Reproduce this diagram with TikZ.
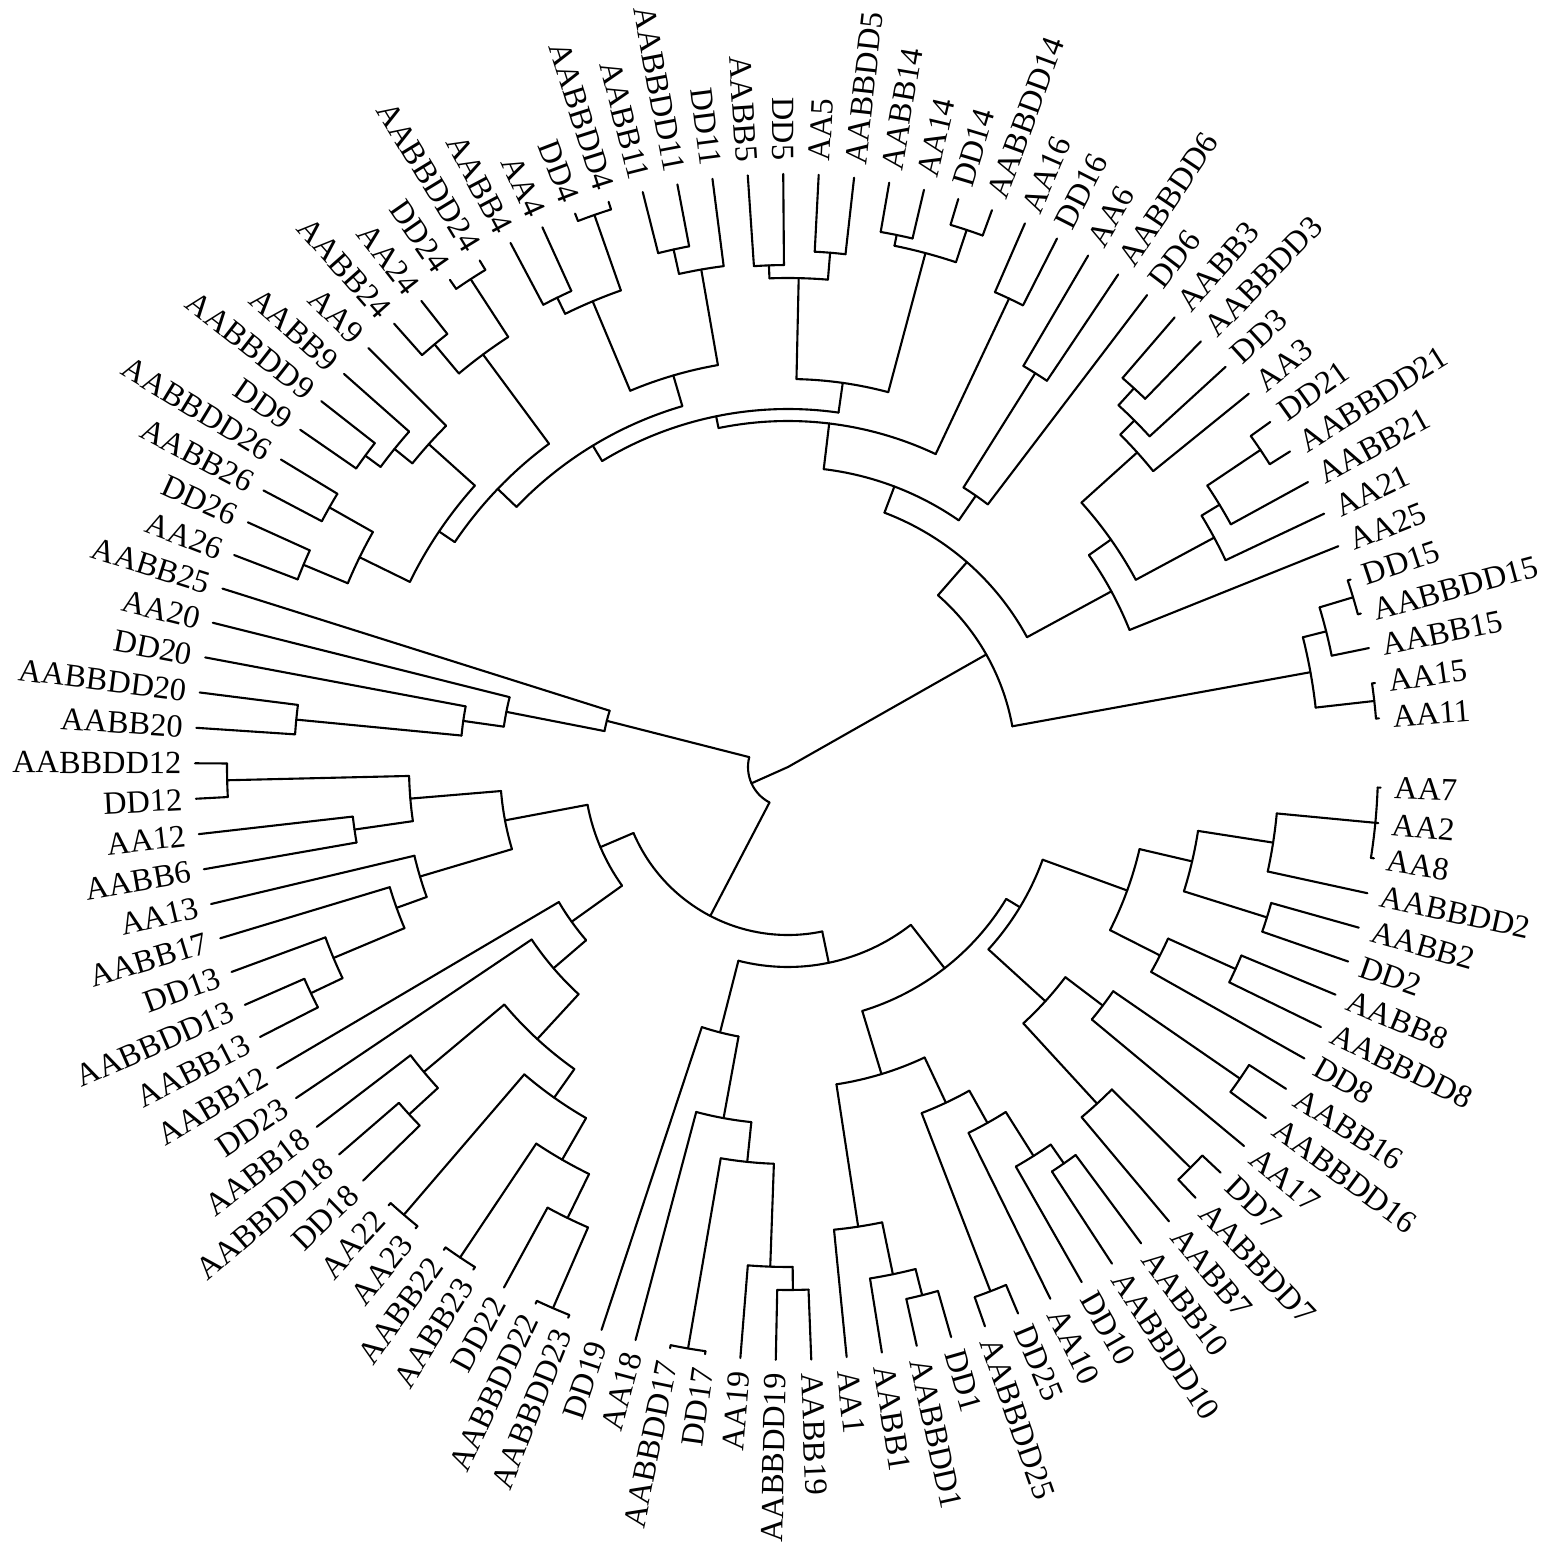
\documentclass[tikz,border=0pt]{standalone}
\usepackage{fontspec}
\setmainfont{Liberation Serif}
\usepackage{tikz}

\tikzset{
  branch/.style={line width=0.6pt, line cap=round, line join=round},
  leaflabel/.style={inner sep=0pt, font=\fontsize{9.2}{11}\selectfont}
}

\makeatletter
% leaf on the outer circle: index, name
\newcommand\leaf[2]{%
  \pgfmathsetmacro\lf@a{-2-3.43*#1}%
  \expandafter\xdef\csname ang@#2\endcsname{\lf@a}%
  \coordinate (#2) at (\lf@a:5.93cm);
  \pgfmathtruncatemacro\lf@s{cos(\lf@a)>=0}%
  \ifnum\lf@s=1
    \node[leaflabel, rotate=\lf@a, anchor=west] (t-#2) at (\lf@a:6.06cm) {#2};
  \else
    \pgfmathsetmacro\lf@b{\lf@a+180}%
    \node[leaflabel, rotate=\lf@b, anchor=east] (t-#2) at (\lf@a:6.06cm) {#2};
  \fi
}
% clade: name, radius (px), children
\newcommand\clade[3]{%
  \gdef\cl@first{}%
  \foreach \cn in {#3}{%
    \ifx\cl@first\@empty\xdef\cl@first{\cn}\fi
    \xdef\cl@last{\cn}%
  }%
  \edef\cl@aa{\csname ang@\cl@first\endcsname}%
  \edef\cl@ab{\csname ang@\cl@last\endcsname}%
  \pgfmathsetmacro\cl@am{(\cl@aa+\cl@ab)/2}%
  \pgfmathsetmacro\cl@r{#2/100}%
  \expandafter\xdef\csname ang@#1\endcsname{\cl@am}%
  \coordinate (#1) at (\cl@am:\cl@r cm);
  \foreach \cn in {#3}{%
    \edef\cl@ac{\csname ang@\cn\endcsname}%
    \coordinate (b-\cn) at (\cl@ac:\cl@r cm);
    \draw[branch] (b-\cn) -- (\cn);
  }%
  \draw[branch] (b-\cl@first) arc[start angle=\cl@aa, end angle=\cl@ab, radius=\cl@r cm];
}
\makeatother

\begin{document}
\begin{tikzpicture}
  \fill[white] (-7.88,-7.92) rectangle (7.71,7.67);
  \useasboundingbox (-7.88,-7.92) rectangle (7.71,7.67);

  % Leaves
  \foreach \n [count=\i from 0] in {AA7,AA2,AA8,AABBDD2,AABB2,DD2,AABB8,AABBDD8,DD8,AABB16,
    AABBDD16,AA17,DD7,AABBDD7,AABB7,AABB10,AABBDD10,DD10,AA10,DD25,
    AABBDD25,DD1,AABBDD1,AABB1,AA1,AABB19,AABBDD19,AA19,DD17,AABBDD17,
    AA18,DD19,AABBDD23,AABBDD22,DD22,AABB23,AABB22,AA23,AA22,DD18,
    AABBDD18,AABB18,DD23,AABB12,AABB13,AABBDD13,DD13,AABB17,AA13,AABB6,
    AA12,DD12,AABBDD12,AABB20,AABBDD20,DD20,AA20,AABB25,AA26,DD26,
    AABB26,AABBDD26,DD9,AABBDD9,AABB9,AA9,AABB24,AA24,DD24,AABBDD24,
    AABB4,AA4,DD4,AABBDD4,AABB11,AABBDD11,DD11,AABB5,DD5,AA5,
    AABBDD5,AABB14,AA14,DD14,AABBDD14,AA16,DD16,AA6,AABBDD6,DD6,
    AABB3,AABBDD3,DD3,AA3,DD21,AABBDD21,AABB21,AA21,AA25,DD15,
    AABBDD15,AABB15,AA15,AA11}{\leaf{\i}{\n}}

  % Right side, lower
  \clade{t278}{590}{AA7,AA2,AA8}
  \clade{n2a}{491}{t278,AABBDD2}
  \clade{n2b}{502}{AABB2,DD2}
  \clade{n2}{415}{n2a,n2b}
  \clade{c7}{491}{AABB8,AABBDD8}
  \clade{c6}{417}{c7,DD8}
  \clade{c5}{361}{n2,c6}
  \clade{c8}{549}{AABB16,AABBDD16}
  \clade{c11}{395}{c8,AA17}
  \clade{c9}{568}{DD7,AABBDD7}
  \clade{c10}{457}{c9,AABB7}
  \clade{c4}{348}{c11,c10}
  \clade{c2}{271}{c5,c4}
  \clade{c19}{483}{AABB10,AABBDD10}
  \clade{c18}{460}{c19,DD10}
  \clade{c17}{408}{c18,AA10}
  \clade{c16}{562}{DD25,AABBDD25}
  \clade{c15}{371}{c17,c16}
  \clade{c14}{545}{DD1,AABBDD1}
  \clade{c13}{518}{c14,AABB1}
  \clade{c12}{465}{c13,AA1}
  \clade{c3}{321}{c15,c12}
  \clade{c1}{255}{c2,c3}

  % Bottom
  \clade{b7}{523}{AABB19,AABBDD19}
  \clade{b6}{500}{b7,AA19}
  \clade{t17}{590}{DD17,AABBDD17}
  \clade{b5}{397}{b6,t17}
  \clade{b4}{357}{b5,AA18}
  \clade{b3}{274}{b4,DD19}
  \clade{b2}{200}{c1,b3}

  % Lower left
  \clade{t23}{590}{AABBDD23,AABBDD22}
  \clade{g7}{502}{t23,DD22}
  \clade{t22}{590}{AABB23,AABB22}
  \clade{g8}{453}{g7,t22}
  \clade{taa}{590}{AA23,AA22}
  \clade{g6}{405}{g8,taa}
  \clade{g5}{514}{DD18,AABBDD18}
  \clade{g4}{475}{g5,AABB18}
  \clade{g3}{370}{g6,g4}
  \clade{g2}{309}{g3,DD23}
  \clade{g1}{266}{g2,AABB12}
  \clade{k13e}{528}{AABB13,AABBDD13}
  \clade{k13d}{493}{k13e,DD13}
  \clade{k13c}{416}{k13d,AABB17}
  \clade{k13b}{384}{k13c,AA13}
  \clade{k12c}{438}{AABB6,AA12}
  \clade{k12a}{561}{DD12,AABBDD12}
  \clade{k12b}{379}{k12c,k12a}
  \clade{k12d}{288}{k13b,k12b}
  \clade{m}{204}{g1,k12d}
  \clade{bl}{168}{b2,m}

  % Left
  \clade{h20a}{494}{AABB20,AABBDD20}
  \clade{h20b}{328}{h20a,DD20}
  \clade{h20c}{287}{h20b,AA20}
  \clade{h25}{187}{h20c,AABB25}
  \clade{rest}{40}{bl,h25}

  % Top
  \clade{u26a}{525}{AA26,DD26}
  \clade{u26b}{527}{AABB26,AABBDD26}
  \clade{u26}{477}{u26a,u26b}
  \clade{u9a}{525}{DD9,AABBDD9}
  \clade{u9b}{506}{u9a,AABB9}
  \clade{u9c}{483}{u9b,AA9}
  \clade{uw}{421}{u26,u9c}
  \clade{u24b}{551}{AABB24,AA24}
  \clade{u24a}{582}{DD24,AABBDD24}
  \clade{u24}{513}{u24b,u24a}
  \clade{uy}{402}{uw,u24}
  \clade{u4c}{523}{AABB4,AA4}
  \clade{u4a}{585}{DD4,AABBDD4}
  \clade{u4b}{505}{u4c,u4a}
  \clade{u11a}{530}{AABB11,AABBDD11}
  \clade{u11b}{505}{u11a,DD11}
  \clade{u411}{408}{u4b,u11b}
  \clade{ux}{376}{uy,u411}
  \clade{u5a}{502}{AABB5,DD5}
  \clade{u5b}{516}{AA5,AABBDD5}
  \clade{u5}{489}{u5a,u5b}
  \clade{u14a}{543}{AABB14,AA14}
  \clade{u14b}{566}{DD14,AABBDD14}
  \clade{u14}{532}{u14a,u14b}
  \clade{u514}{388}{u5,u14}
  \clade{uu}{358}{ux,u514}
  \clade{u16}{518}{AA16,DD16}
  \clade{ul}{346}{uu,u16}
  \clade{u6a}{465}{AA6,AABBDD6}
  \clade{u6}{330}{u6a,DD6}
  \clade{up}{300}{ul,u6}

  % Right side, upper
  \clade{r3a}{513}{AABB3,AABBDD3}
  \clade{r3b}{490}{r3a,DD3}
  \clade{r3c}{470}{r3b,AA3}
  \clade{r21a}{569}{DD21,AABBDD21}
  \clade{r21c}{505}{r21a,AABB21}
  \clade{r21d}{484}{r21c,AA21}
  \clade{r321}{395}{r3c,r21d}
  \clade{r25}{368}{r321,AA25}
  \clade{uq}{272}{up,r25}
  \clade{r15x}{590}{DD15,AABBDD15}
  \clade{r15a}{555}{r15x,AABB15}
  \clade{r1511}{590}{AA15,AA11}
  \clade{r15}{531}{r15a,r1511}
  \clade{upper}{228}{uq,r15}

  % Root
  \coordinate (root) at (0,0);
  \draw[branch] (rest) -- (root) -- (upper);
\end{tikzpicture}
\end{document}
